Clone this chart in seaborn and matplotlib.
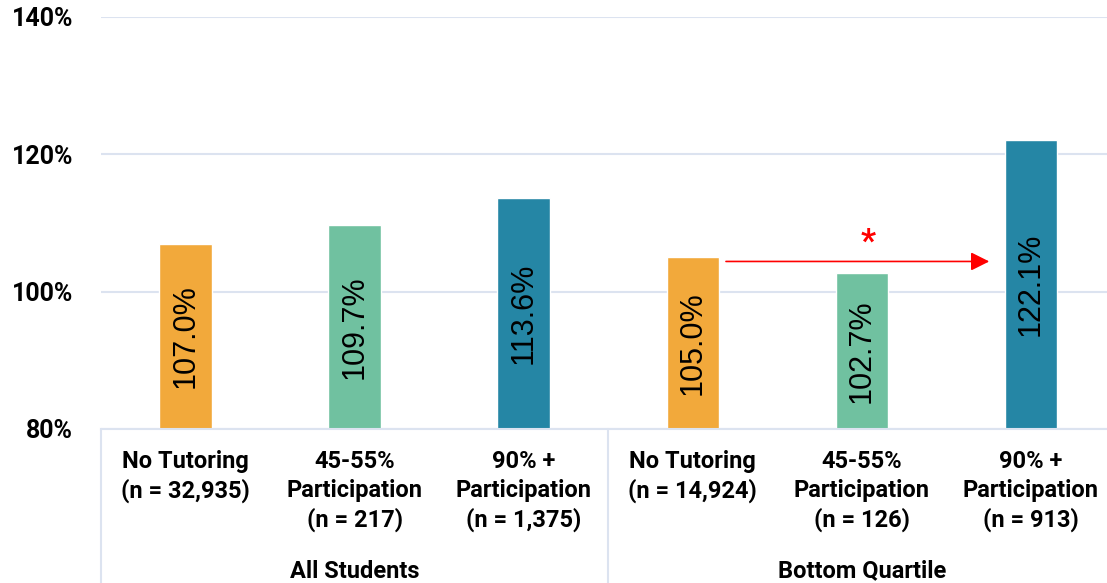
import numpy as np
import matplotlib
matplotlib.use("Agg")
import matplotlib.pyplot as plt
import matplotlib.transforms as mtransforms
import pandas as pd
import seaborn as sns

# data
groups = ["All Students", "Bottom Quartile"]
conditions = ["No Tutoring", "45-55%\nParticipation", "90% +\nParticipation"]
counts = ["32,935", "217", "1,375", "14,924", "126", "913"]
values = [107.0, 109.7, 113.6, 105.0, 102.7, 122.1]
colors = ["#F2A93B", "#70C1A0", "#2586A5"]

labels = []
for i, n in enumerate(counts):
    labels.append(f"{conditions[i % 3]}\n(n = {n})")

df = pd.DataFrame({"label": labels, "value": values})
palette = dict(zip(labels, colors * 2))

sns.set_theme(style="white")
plt.rcParams["font.family"] = ["Roboto", "DejaVu Sans"]
plt.rcParams["text.color"] = "black"
plt.rcParams["xtick.color"] = "black"
plt.rcParams["ytick.color"] = "black"

fig = plt.figure(figsize=(11.07, 5.83), dpi=100)
ax = fig.add_axes([101 / 1107, 1 - 429 / 583, 1 - 101 / 1107, (429 - 17) / 583])

sns.barplot(data=df, x="label", y="value", hue="label", palette=palette,
            width=0.31, saturation=1, legend=False, ax=ax)

ax.set_ylim(80, 140)
ax.set_xlim(-0.5, 5.45)
ax.set_yticks([80, 100, 120, 140])
ax.set_yticklabels([f"{t}%" for t in [80, 100, 120, 140]], fontsize=18, fontweight="bold")
ax.yaxis.grid(True, color="#DCE3F0", lw=1.5)
ax.set_axisbelow(True)
ax.set_xlabel("")
ax.set_ylabel("")
for s in ["top", "right", "left"]:
    ax.spines[s].set_visible(False)
ax.spines["bottom"].set_color("#DCE3F0")
ax.spines["bottom"].set_linewidth(1.5)
ax.tick_params(axis="both", length=0)
ax.tick_params(axis="y", pad=20)
ax.tick_params(axis="x", pad=15)
for t in ax.get_xticklabels():
    t.set_fontsize(17)
    t.set_fontweight(600)
    t.set_linespacing(1.32)

# value labels centred in each bar
for i, v in enumerate(values):
    ax.text(i, (80 + v) / 2, f"{v:.1f}%", rotation=90, ha="center", va="center",
            fontsize=22, family="Liberation Sans", color="black")

# group separators and labels
trans = mtransforms.blended_transform_factory(ax.transData, ax.transAxes)
for x in [-0.5, 2.5]:
    ax.plot([x, x], [0, -0.4], transform=trans, color="#DCE3F0", lw=1.5, clip_on=False)
for j, g in enumerate(groups):
    ax.text(j * 3 + 1, -0.345, g, transform=trans, ha="center", va="center",
            fontsize=17, fontweight=600)

# significance arrow
arrow_y = 104.4
ax.annotate("", xy=(4.77, arrow_y), xytext=(3.18, arrow_y),
            arrowprops=dict(arrowstyle="-|>", color="red", lw=1.2, mutation_scale=28))
ax.text(4.04, 107.2, "*", color="red", fontsize=24, fontweight="bold", ha="center", va="center")

fig.savefig("out.png", dpi=100)
